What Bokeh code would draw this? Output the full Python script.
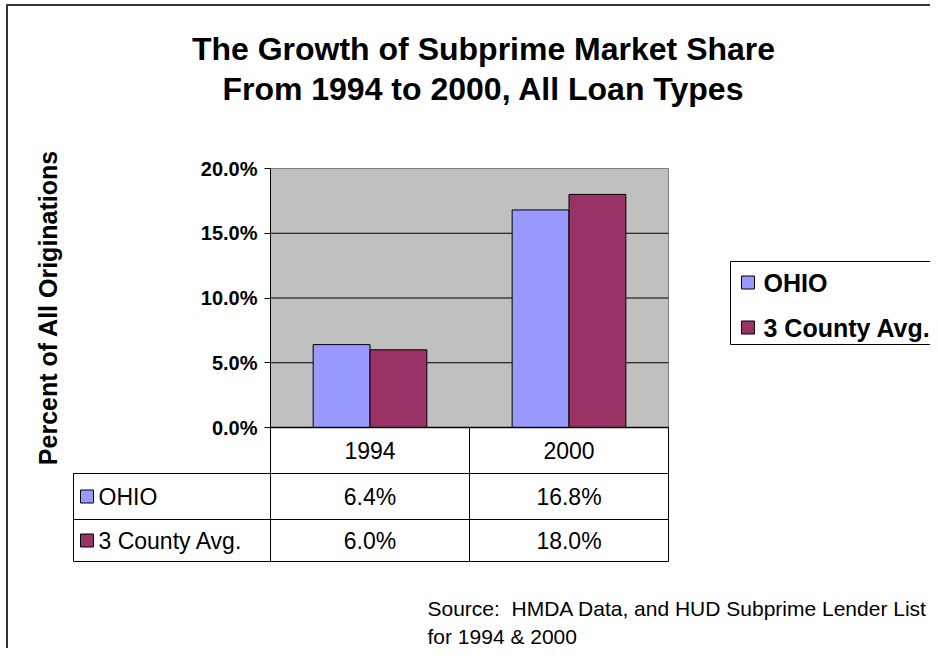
import math
from bokeh.plotting import figure
from bokeh.models import Range1d, LinearAxis, FixedTicker, PrintfTickFormatter
from bokeh.core.properties import value
from bokeh.embed import file_html
from bokeh.resources import INLINE

# ---------------- data ----------------
years = ["1994", "2000"]
series_names = ["OHIO", "3 County Avg."]
ohio = [6.4, 16.8]
county = [6.0, 18.0]
y_ticks = [0, 5, 10, 15, 20]
title_lines = ["The Growth of Subprime Market Share", "From 1994 to 2000, All Loan Types"]
y_title = "Percent of All Originations"
source_lines = ["Source:\u00a0 HMDA Data, and HUD Subprime Lender List", "for 1994 & 2000"]
colors = ["#9999FF", "#993366"]

# ---------------- layout (canvas pixels) ----------------
FONT = "Liberation Sans"
W, H = 930, 648
PL, PR, PT, PB = 270, 668, 168, 427
Y_MAX = 20
n = len(years)
ppx = (PR - PL) / n
ppy = (PB - PT) / Y_MAX

p = figure(width=W, height=H,
           x_range=Range1d(0.5 - PL / ppx, n + 0.5 + (W - PR) / ppx),
           y_range=Range1d(-(H - PB) / ppy, Y_MAX + PT / ppy),
           x_axis_location=None, y_axis_location=None,
           toolbar_location=None, output_backend="svg",
           min_border=0, outline_line_color=None,
           background_fill_color="white", border_fill_color="white")
p.min_border_left = p.min_border_right = p.min_border_top = p.min_border_bottom = 0
p.xgrid.grid_line_color = None
p.ygrid.grid_line_color = None
p.extra_x_ranges = {"px": Range1d(0, W)}
p.extra_y_ranges = {"px": Range1d(H, 0)}
PX = dict(x_range_name="px", y_range_name="px")

# plot area
p.quad(left=[0.5], right=[n + 0.5], bottom=[0], top=[Y_MAX],
       fill_color="#C0C0C0", line_color="#808080", line_width=1)
grid_vals = [t for t in y_ticks if 0 < t < Y_MAX]
p.segment(x0=[0.5] * len(grid_vals), x1=[n + 0.5] * len(grid_vals),
          y0=grid_vals, y1=grid_vals, line_color="black", line_width=1)

# bars (gap width 150%)
bar_w = 1 / 3.5
xs = [i + 1 for i in range(n)]
p.vbar(x=[x - bar_w / 2 for x in xs], width=bar_w, top=ohio, bottom=0,
       fill_color=colors[0], line_color="black", line_width=1)
p.vbar(x=[x + bar_w / 2 for x in xs], width=bar_w, top=county, bottom=0,
       fill_color=colors[1], line_color="black", line_width=1)

# zero line
p.segment(x0=[0.5], x1=[n + 0.5], y0=[0], y1=[0], line_color="black", line_width=1.5)

# y axis
yaxis = LinearAxis(fixed_location=0.5, bounds=(0, Y_MAX),
                   ticker=FixedTicker(ticks=y_ticks),
                   formatter=PrintfTickFormatter(format="%.1f%%"),
                   major_tick_in=0, major_tick_out=6,
                   minor_tick_line_color=None,
                   axis_line_color="black", major_tick_line_color="black",
                   major_label_text_font=FONT, major_label_text_font_style="bold",
                   major_label_text_font_size="20px", major_label_text_color="black",
                   major_label_standoff=7)
p.add_layout(yaxis, "left")

# outer chart border (left & top)
p.segment(x0=[6, 6.5], y0=[4.5, 4], x1=[W, 6.5], y1=[4.5, H], line_color="#333333", line_width=2, **PX)

# title
p.text(x=[483, 483], y=[48, 88], text=title_lines, text_font=value(FONT),
       text_font_style="bold", text_font_size="32px", text_align="center",
       text_baseline="middle", text_color="black", **PX)

# y title
p.text(x=[47], y=[307], text=[y_title], angle=math.pi / 2, text_font=value(FONT),
       text_font_style="bold", text_font_size="25px", text_align="center",
       text_baseline="middle", text_color="black", **PX)

# data table
TL = 73
HB, R1, R2 = 473, 519, 561
col_edges = [PL + i * ppx for i in range(n + 1)]
col_centers = [PL + (i + 0.5) * ppx for i in range(n)]
p.segment(x0=[TL, TL, TL], x1=[PR, PR, PR], y0=[HB, R1, R2], y1=[HB, R1, R2],
          line_color="black", line_width=1, **PX)
p.segment(x0=[TL], x1=[TL], y0=[HB], y1=[R2], line_color="black", line_width=1, **PX)
p.segment(x0=col_edges, x1=col_edges, y0=[PB] * len(col_edges), y1=[R2] * len(col_edges),
          line_color="black", line_width=1, **PX)
p.text(x=col_centers, y=[(PB + HB) / 2] * n, text=years, text_font=value(FONT),
       text_font_size="23px", text_align="center", text_baseline="middle",
       text_color="black", **PX)
row_centers = [(HB + R1) / 2, (R1 + R2) / 2]
for r, vals in enumerate([ohio, county]):
    p.text(x=col_centers, y=[row_centers[r]] * n, text=["%.1f%%" % v for v in vals],
           text_font=value(FONT), text_font_size="23px", text_align="center",
           text_baseline="middle", text_color="black", **PX)
p.quad(left=[TL + 7] * 2, right=[TL + 20] * 2,
       top=[c - 6.5 for c in row_centers], bottom=[c + 6.5 for c in row_centers],
       fill_color=colors, line_color="black", line_width=1, **PX)
p.text(x=[TL + 25] * 2, y=row_centers, text=series_names, text_font=value(FONT),
       text_font_size="23px", text_align="left", text_baseline="middle",
       text_color="black", **PX)

# legend
LL, LT, LB = 730, 261, 344
p.quad(left=[LL], right=[W + 20], top=[LT], bottom=[LB], fill_color="white",
       line_color="black", line_width=1, **PX)
leg_rows = [282, 327]
p.quad(left=[741] * 2, right=[754] * 2,
       top=[c - 6.5 for c in leg_rows], bottom=[c + 6.5 for c in leg_rows],
       fill_color=colors, line_color="black", line_width=1, **PX)
p.text(x=[763] * 2, y=leg_rows, text=series_names, text_font=value(FONT),
       text_font_style="bold", text_font_size="25px", text_align="left",
       text_baseline="middle", text_color="black", **PX)

# source note
p.text(x=[427] * 2, y=[608, 636], text=source_lines,
       text_font=value(FONT), text_font_size="21px", text_align="left",
       text_baseline="middle", text_color="black", **PX)

open("out.html", "w").write(file_html(p, INLINE))
